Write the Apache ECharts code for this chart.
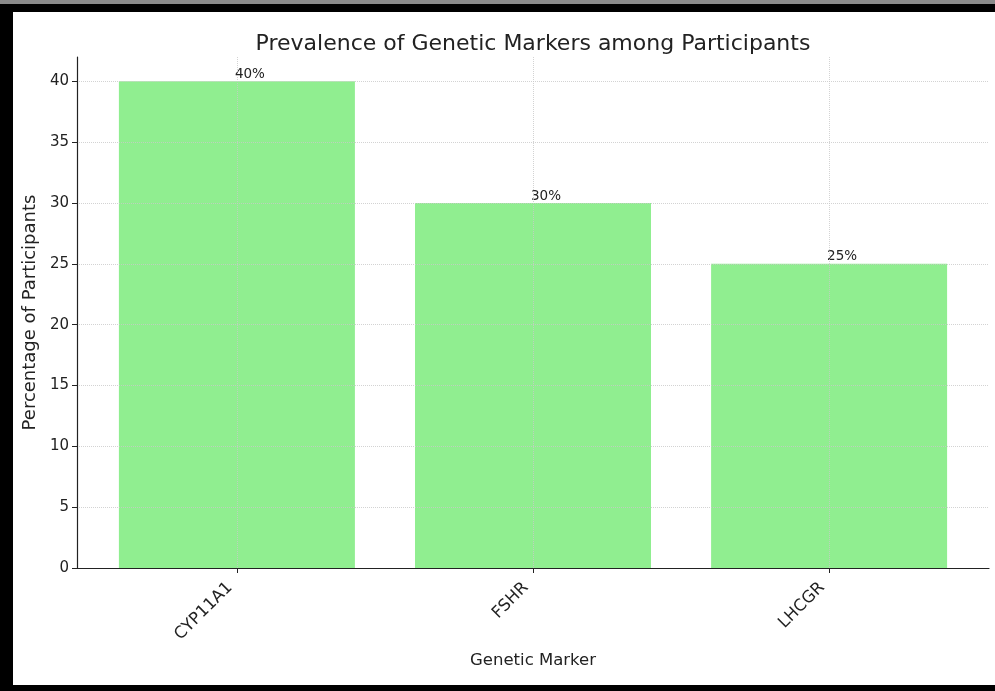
<!DOCTYPE html>
<html lang="en">
<head>
    <meta charset="utf-8" />
    <title>Genetic Markers</title>
    <script src="https://cdn.jsdelivr.net/npm/echarts@6/dist/echarts.min.js"></script>
    <style>
        body {
            margin: 0;
            padding: 0;
            background: #fff;
        }

        #main {
            width: 995px;
            height: 691px;
        }
    </style>
</head>
<body>
<div id="main"></div>
<script type="text/javascript">
    // Data
    const markers = ['CYP11A1', 'FSHR', 'LHCGR'];
    const prevalence = [40, 30, 25];
    const yTicks = [0, 5, 10, 15, 20, 25, 30, 35, 40];

    const textColor = '#222';
    const gridColor = '#c8c8c8';
    const fontFamily = 'DejaVu Sans';

    var myChart = echarts.init(document.getElementById('main'));

    var option = {
        backgroundColor: '#fff',
        animation: false,
        // black frame around the picture
        graphic: [
            {type: 'rect', left: 0, top: 0, shape: {width: 995, height: 4}, style: {fill: '#8a8a8a'}},
            {type: 'rect', left: 0, top: 4, shape: {width: 995, height: 8}, style: {fill: '#000'}},
            {type: 'rect', left: 0, top: 4, shape: {width: 13, height: 687}, style: {fill: '#000'}},
            {type: 'rect', left: 0, top: 685, shape: {width: 995, height: 6}, style: {fill: '#000'}}
        ],
        title: {
            text: 'Prevalence of Genetic Markers among Participants',
            left: 528,
            textAlign: 'center',
            top: 28,
            textStyle: {
                color: textColor,
                fontFamily: fontFamily,
                fontWeight: 'normal',
                fontSize: 22
            }
        },
        grid: {
            left: 77,
            right: 6,
            top: 57,
            bottom: 123
        },
        xAxis: {
            type: 'value',
            min: -0.54,
            max: 2.54,
            name: 'Genetic Marker',
            nameLocation: 'middle',
            nameGap: 84,
            nameTextStyle: {
                color: textColor,
                fontFamily: fontFamily,
                fontSize: 16.5
            },
            z: 3,
            axisLine: {
                show: true,
                lineStyle: {color: textColor, width: 1.2}
            },
            axisTick: {
                show: true,
                length: 5,
                customValues: [0, 1, 2],
                lineStyle: {color: textColor}
            },
            axisLabel: {
                customValues: [0, 1, 2],
                formatter: function (v) {
                    return markers[Math.round(v)];
                },
                rotate: 45,
                margin: 10,
                padding: [0, 10, 0, 0],
                color: textColor,
                fontFamily: fontFamily,
                fontSize: 16.5
            },
            splitLine: {
                show: true,
                lineStyle: {color: gridColor, type: 'dotted', width: 1, opacity: 0.8}
            }
        },
        yAxis: {
            type: 'value',
            min: 0,
            max: 42,
            name: 'Percentage of Participants',
            nameLocation: 'middle',
            nameGap: 30,
            nameTextStyle: {
                color: textColor,
                fontFamily: fontFamily,
                fontSize: 18
            },
            z: 3,
            axisLine: {
                show: true,
                onZero: false,
                lineStyle: {color: textColor, width: 1.2}
            },
            axisTick: {
                show: true,
                length: 5,
                customValues: yTicks,
                lineStyle: {color: textColor}
            },
            axisLabel: {
                customValues: yTicks,
                margin: 8,
                color: textColor,
                fontFamily: fontFamily,
                fontSize: 15
            },
            splitLine: {
                show: true,
                lineStyle: {color: gridColor, type: 'dotted', width: 1, opacity: 0.8}
            }
        },
        series: [
            {
                name: 'Prevalence',
                type: 'bar',
                barWidth: 236,
                data: prevalence.map((v, i) => [i, v]),
                itemStyle: {
                    color: '#90EE90'
                },
                label: {
                    show: true,
                    position: 'top',
                    distance: 0,
                    offset: [13, 0],
                    formatter: function (p) {
                        return p.value[1] + '%';
                    },
                    color: '#222',
                    fontFamily: fontFamily,
                    fontSize: 13.5
                }
            }
        ]
    };

    myChart.setOption(option);
</script>
</body>
</html>
